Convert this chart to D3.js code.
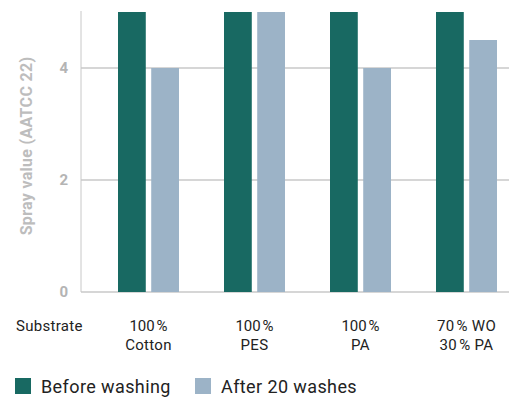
<!DOCTYPE html>
<html>
<head>
<meta charset="utf-8">
<script src="https://cdn.jsdelivr.net/npm/d3@7"></script>
<style>
  html, body { margin: 0; padding: 0; background: #fff; }
  svg { display: block; font-family: Roboto, "Noto Sans", sans-serif; }
</style>
</head>
<body>
<svg id="chart" width="511" height="414"></svg>
<script>
const categories = ["100\u202F%|Cotton", "100\u202F%|PES", "100\u202F%|PA", "70\u202F% WO|30\u202F% PA"];
const seriesNames = ["Before washing", "After 20 washes"];
const beforeWashing = [5, 5, 5, 5];
const after20Washes = [4, 5, 4, 4.5];
const yTicks = [0, 2, 4];
const colors = ["#186962", "#9cb3c7"];

const svg = d3.select("#chart");
const x0 = 81, xEnd = 509, yTop = 12, yBottom = 292;

const y = d3.scaleLinear().domain([0, 5]).range([yBottom, yTop]);
const x = d3.scaleBand().domain(categories).range([118, 497]).paddingInner(45 / 106).paddingOuter(0);
const xs = d3.scaleBand().domain(seriesNames).range([0, x.bandwidth()]).paddingInner(5 / 30.5);

// gridlines
svg.append("g").selectAll("line").data(yTicks).join("line")
  .attr("x1", x0).attr("x2", xEnd)
  .attr("y1", d => y(d)).attr("y2", d => y(d))
  .attr("stroke", "#c8c8c8").attr("stroke-width", 1.5);

// y axis line
svg.append("line").attr("x1", x0).attr("x2", x0)
  .attr("y1", y(5) - 1).attr("y2", yBottom)
  .attr("stroke", "#c8c8c8").attr("stroke-width", 1);

// y tick labels
svg.append("g").selectAll("text").data(yTicks).join("text")
  .attr("x", 68).attr("y", d => y(d)).attr("dy", "0.36em")
  .attr("text-anchor", "end")
  .attr("font-size", 15).attr("font-weight", "bold").attr("fill", "#b4b4b4")
  .text(d => d);

// y title
svg.append("text")
  .attr("transform", `translate(32, 146) rotate(-90)`)
  .attr("text-anchor", "middle")
  .attr("font-size", 16).attr("font-weight", "bold").attr("fill", "#bdbdbd")
  .attr("letter-spacing", 0.3)
  .text("Spray value (AATCC 22)");

// bars
const data = categories.map((c, i) => ({ c, vals: [beforeWashing[i], after20Washes[i]] }));
const g = svg.append("g").selectAll("g").data(data).join("g")
  .attr("transform", d => `translate(${x(d.c)},0)`);
g.selectAll("rect").data(d => d.vals.map((v, j) => ({ v, s: seriesNames[j], j }))).join("rect")
  .attr("x", d => xs(d.s))
  .attr("width", xs.bandwidth())
  .attr("y", d => y(d.v))
  .attr("height", d => yBottom - y(d.v))
  .attr("fill", d => colors[d.j]);

// category labels
const labelG = svg.append("g").attr("font-size", 15).attr("fill", "#222").attr("letter-spacing", 0.3);
labelG.append("text").attr("x", 16).attr("y", 331).text("Substrate");
data.forEach(d => {
  const cx = x(d.c) + x.bandwidth() / 2;
  d.c.split("|").forEach((ln, k) => {
    labelG.append("text").attr("x", cx).attr("y", 331 + k * 19)
      .attr("text-anchor", "middle").text(ln);
  });
});

// legend
const legendX = [15, 195];
const lg = svg.append("g").selectAll("g").data(seriesNames).join("g")
  .attr("transform", (d, i) => `translate(${legendX[i]},378)`);
lg.append("rect").attr("width", 16).attr("height", 16).attr("fill", (d, i) => colors[i]);
lg.append("text").attr("x", 26).attr("y", 15).attr("font-size", 18).attr("letter-spacing", 0.4)
  .attr("fill", "#222").text(d => d);
</script>
</body>
</html>
